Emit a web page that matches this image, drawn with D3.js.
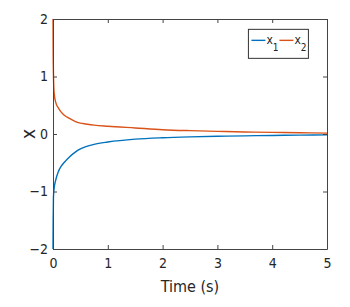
<!DOCTYPE html>
<html>
<head>
<meta charset="utf-8">
<script src="https://cdn.jsdelivr.net/npm/d3@7"></script>
<style>
  body { margin: 0; background: #fff; }
  text { font-family: "Liberation Sans Narrow", "DejaVu Sans Condensed", "Liberation Sans", sans-serif; fill: #262626; }
</style>
</head>
<body>
<script>
// data
const time = [0, 0.003, 0.008, 0.02, 0.05, 0.1, 0.15, 0.2, 0.3, 0.4, 0.5, 0.6, 0.75, 1, 1.5, 2, 2.5, 3, 3.5, 4, 4.5, 5];
const x1 = [-2, -1.5, -1.1, -0.95, -0.8, -0.65, -0.56, -0.5, -0.4, -0.32, -0.26, -0.22, -0.18, -0.14, -0.09, -0.065, -0.05, -0.04, -0.032, -0.025, -0.02, -0.015];
const x2 = [2, 1.4, 1.05, 0.72, 0.55, 0.45, 0.38, 0.33, 0.27, 0.22, 0.19, 0.175, 0.155, 0.135, 0.105, 0.075, 0.058, 0.046, 0.036, 0.028, 0.021, 0.016];
const xTicks = [0, 1, 2, 3, 4, 5];
const yTicks = [-2, -1, 0, 1, 2];
const seriesNames = ["1", "2"];
const colors = ["#0072BD", "#D95319"];

const margin = {top: 19, right: 23, bottom: 58, left: 53},
  width = 350 - margin.left - margin.right,
  height = 307 - margin.top - margin.bottom;

const svg = d3.select("body")
  .append("svg")
    .attr("width", 350)
    .attr("height", 307)
  .append("g")
    .attr("transform", `translate(${margin.left},${margin.top})`);

const x = d3.scaleLinear().domain([0, 5]).range([0, width]);
const y = d3.scaleLinear().domain([-2, 2]).range([height, 0]);

// lines
const line = d3.line()
  .curve(d3.curveMonotoneX)
  .x(function(d) { return x(d[0]); })
  .y(function(d) { return y(d[1]); });

[x1, x2].forEach(function(s, i) {
  svg.append("path")
    .datum(time.map(function(t, j) { return [t, s[j]]; }))
    .attr("fill", "none")
    .attr("stroke", colors[i])
    .attr("stroke-width", 1.4)
    .attr("d", line);
});

// axes, box with inward ticks
function styleAxis(g) {
  g.select(".domain").attr("stroke", "#444");
  g.selectAll(".tick line").attr("stroke", "#444");
  g.selectAll(".tick text").style("font-size", "14px").attr("fill", "#262626");
}
svg.append("g")
  .attr("transform", `translate(0,${height})`)
  .call(d3.axisBottom(x).tickValues(xTicks).tickFormat(d3.format("d")).tickSizeInner(-4).tickSizeOuter(0).tickPadding(9))
  .call(styleAxis);
svg.append("g")
  .call(d3.axisTop(x).tickValues(xTicks).tickSizeInner(-4).tickSizeOuter(0).tickFormat(""))
  .call(styleAxis);
svg.append("g")
  .call(d3.axisLeft(y).tickValues(yTicks).tickFormat(d3.format("d")).tickSizeInner(-4).tickSizeOuter(0).tickPadding(5))
  .call(styleAxis);
svg.append("g")
  .attr("transform", `translate(${width},0)`)
  .call(d3.axisRight(y).tickValues(yTicks).tickSizeInner(-4).tickSizeOuter(0).tickFormat(""))
  .call(styleAxis);

// labels
svg.append("text")
  .attr("x", width / 2)
  .attr("y", height + 43)
  .attr("text-anchor", "middle")
  .style("font-size", "16px")
  .text("Time (s)");

svg.append("text")
  .attr("transform", `translate(-18.5,${y(0)}) rotate(-90)`)
  .attr("text-anchor", "middle")
  .style("font-size", "19px")
  .text("x");

// legend
const legend = svg.append("g").attr("transform", `translate(${x(3.566)},${y(1.82)})`);
legend.append("rect")
  .attr("width", 60).attr("height", 29)
  .attr("fill", "#fff").attr("stroke", "#333").attr("stroke-width", 1);
seriesNames.forEach(function(n, i) {
  const g = legend.append("g").attr("transform", `translate(${3 + i * 28},0)`);
  g.append("line")
    .attr("x1", 0).attr("x2", 14).attr("y1", 11).attr("y2", 11)
    .attr("stroke", colors[i]).attr("stroke-width", 1.4);
  const t = g.append("text").attr("x", 15).attr("y", 15).style("font-size", "12px");
  t.append("tspan").text("x");
  t.append("tspan").attr("dy", 7).style("font-size", "10px").text(n);
});
</script>
</body>
</html>
